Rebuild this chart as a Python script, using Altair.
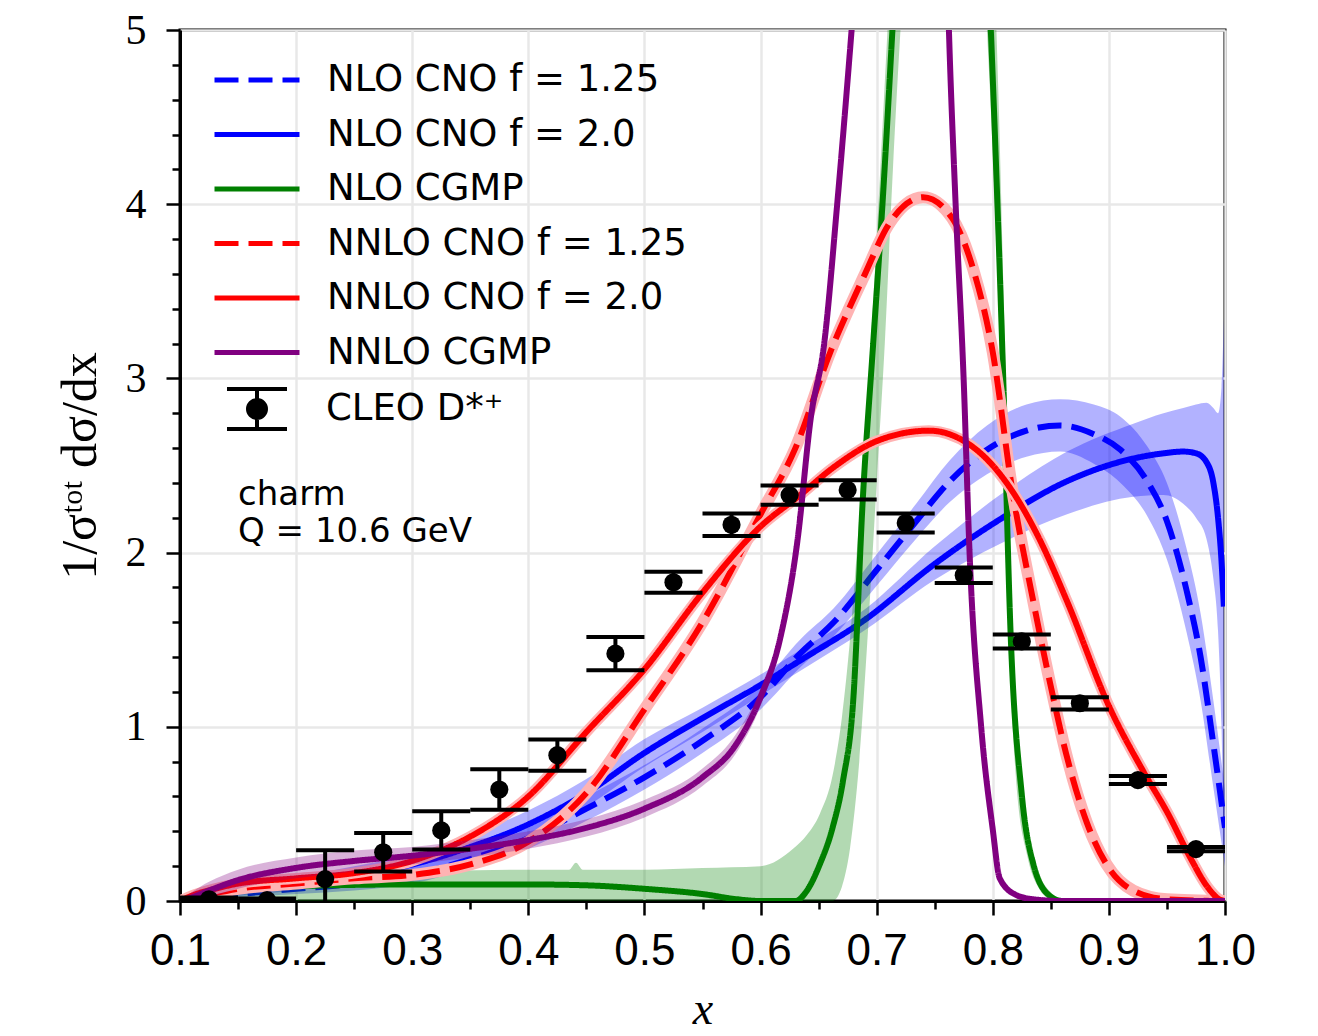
import altair as alt
import pandas as pd

# ---------------- data ----------------
labels = ["NLO CNO f = 1.25", "NLO CNO f = 2.0", "NLO CGMP",
          "NNLO CNO f = 1.25", "NNLO CNO f = 2.0", "NNLO CGMP"]
line_colors = ["#0000ff", "#0000ff", "#008000", "#ff0000", "#ff0000", "#800080"]
line_dashes = [[24, 10], [1, 0], [1, 0], [24, 10], [1, 0], [1, 0]]

x_ticks = [0.1, 0.15, 0.2, 0.25, 0.3, 0.35, 0.4, 0.45, 0.5, 0.55, 0.6, 0.65,
           0.7, 0.75, 0.8, 0.85, 0.9, 0.95, 1.0]
y_ticks = [0, 0.2, 0.4, 0.6, 0.8, 1, 1.2, 1.4, 1.6, 1.8, 2, 2.2, 2.4, 2.6, 2.8,
           3, 3.2, 3.4, 3.6, 3.8, 4, 4.2, 4.4, 4.6, 4.8, 5]

# NLO CNO f=1.25 (blue dashed) + band
nlo125_x = [0.10, 0.12, 0.15, 0.20, 0.25, 0.30, 0.35, 0.40, 0.45, 0.50, 0.55, 0.60, 0.634,
            0.663, 0.70, 0.734, 0.763, 0.795, 0.829, 0.858, 0.887, 0.91, 0.933, 0.95, 0.967,
            0.979, 0.99, 1.0]
nlo125_y = [0.0, 0.02, 0.04, 0.07, 0.10, 0.15, 0.24, 0.36, 0.53, 0.71, 0.92, 1.17, 1.42,
            1.60, 1.90, 2.18, 2.41, 2.59, 2.70, 2.73, 2.68, 2.59, 2.41, 2.18, 1.78,
            1.40, 0.90, 0.42]
nlo125_lo = [0.0, 0.01, 0.02, 0.04, 0.06, 0.10, 0.19, 0.30, 0.46, 0.64, 0.85, 1.10, 1.34,
             1.52, 1.81, 2.08, 2.29, 2.45, 2.55, 2.58, 2.51, 2.40, 2.21, 1.96, 1.54,
             1.15, 0.65, 0.20]
nlo125_hi = [0.0, 0.03, 0.06, 0.10, 0.14, 0.20, 0.29, 0.42, 0.60, 0.78, 0.99, 1.24, 1.50,
             1.68, 1.99, 2.28, 2.53, 2.73, 2.85, 2.88, 2.85, 2.78, 2.61, 2.40, 2.02,
             1.65, 1.15, 0.64]

# NLO CNO f=2.0 (blue solid) + band
nlo20_x = [0.10, 0.12, 0.15, 0.20, 0.25, 0.30, 0.35, 0.40, 0.45, 0.50, 0.55, 0.60, 0.634,
           0.691, 0.749, 0.806, 0.864, 0.921, 0.947, 0.964, 0.975, 0.984, 0.99, 0.994,
           0.997, 0.999]
nlo20_y = [0.0, 0.03, 0.06, 0.10, 0.15, 0.21, 0.31, 0.44, 0.62, 0.85, 1.05, 1.24, 1.38,
           1.62, 1.93, 2.19, 2.41, 2.54, 2.57, 2.58, 2.57, 2.52, 2.40, 2.20, 1.95, 1.69]
nlo20_lo = [0.0, 0.01, 0.03, 0.06, 0.10, 0.15, 0.24, 0.36, 0.54, 0.77, 0.97, 1.18, 1.32,
            1.56, 1.84, 2.05, 2.22, 2.32, 2.33, 2.28, 2.20, 2.08, 1.85, 1.55, 1.00, 0.26]
nlo20_hi = [0.0, 0.05, 0.09, 0.14, 0.20, 0.27, 0.38, 0.52, 0.70, 0.93, 1.11, 1.30, 1.44,
            1.68, 2.03, 2.33, 2.58, 2.74, 2.80, 2.83, 2.85, 2.86, 2.83, 2.80, 2.95, 3.35]

# NLO CGMP (green) + band
nlocg_x = [0.10, 0.12, 0.15, 0.20, 0.30, 0.40, 0.45, 0.50, 0.55, 0.58, 0.60, 0.63, 0.64,
           0.651, 0.662, 0.671, 0.680, 0.688, 0.697, 0.705, 0.714, 0.73, 0.755, 0.78,
           0.798, 0.804, 0.809, 0.815, 0.825, 0.835, 0.849, 0.86, 0.9, 1.0]
nlocg_y = [0.0, 0.03, 0.06, 0.085, 0.095, 0.095, 0.09, 0.07, 0.04, 0.01, 0.0, 0.0, 0.06,
           0.21, 0.42, 0.69, 1.17, 2.30, 3.20, 4.00, 5.05, 7.0, 9.0, 7.0,
           5.05, 4.0, 3.0, 1.60, 0.61, 0.21, 0.03, 0.0, 0.0, 0.0]
nlocg_bx = [0.10, 0.12, 0.15, 0.20, 0.30, 0.40, 0.435, 0.441, 0.447, 0.50, 0.55, 0.60,
            0.628, 0.64, 0.651, 0.662, 0.67, 0.677, 0.685, 0.693, 0.70, 0.707, 0.714,
            0.73, 0.755, 0.78, 0.795, 0.80, 0.805, 0.81, 0.815, 0.82, 0.83, 0.84, 0.85,
            0.86, 1.0]
nlocg_lo = [0.0, 0.0, 0.0, 0.0, 0.0, 0.0, 0.0, 0.0, 0.0, 0.0, 0.0, 0.0,
            0.0, 0.0, 0.0, 0.0, 0.08, 0.3, 0.8, 1.6, 2.4, 3.2, 4.2,
            6.0, 8.0, 7.0, 5.0, 4.3, 3.4, 2.3, 1.3, 0.7, 0.25, 0.07, 0.01,
            0.0, 0.0]
nlocg_hi = [0.0, 0.05, 0.11, 0.15, 0.17, 0.18, 0.18, 0.22, 0.18, 0.18, 0.19, 0.20,
            0.30, 0.38, 0.50, 0.72, 1.05, 1.5, 2.2, 3.0, 3.8, 4.7, 5.6,
            7.5, 10.0, 9.0, 6.5, 5.6, 4.6, 3.3, 2.0, 1.1, 0.45, 0.16, 0.05,
            0.01, 0.0]

# NNLO CNO f=1.25 (red dashed)
nnlo125_x = [0.10, 0.12, 0.15, 0.20, 0.25, 0.30, 0.35, 0.40, 0.45, 0.50, 0.55, 0.60, 0.63,
             0.66, 0.69, 0.71, 0.74, 0.765, 0.783, 0.80, 0.817, 0.834, 0.851, 0.863,
             0.881, 0.898, 0.921, 0.95, 1.0]
nnlo125_y = [0.0, 0.03, 0.07, 0.10, 0.13, 0.15, 0.21, 0.34, 0.62, 1.10, 1.60, 2.22, 2.60,
             3.15, 3.60, 3.88, 4.04, 3.92, 3.63, 3.15, 2.35, 1.75, 1.20, 0.85,
             0.45, 0.21, 0.06, 0.01, 0.0]

# NNLO CNO f=2.0 (red solid)
nnlo20_x = [0.10, 0.11, 0.13, 0.15, 0.20, 0.25, 0.30, 0.35, 0.40, 0.45, 0.50, 0.55, 0.60,
            0.634, 0.663, 0.70, 0.745, 0.78, 0.80, 0.82, 0.84, 0.864, 0.90, 0.93, 0.951,
            0.97, 0.985, 0.995, 1.0]
nnlo20_y = [0.0, 0.03, 0.07, 0.10, 0.13, 0.16, 0.23, 0.37, 0.60, 0.97, 1.33, 1.77, 2.15,
            2.33, 2.49, 2.64, 2.70, 2.62, 2.50, 2.32, 2.08, 1.72, 1.12, 0.74, 0.50,
            0.25, 0.08, 0.01, 0.0]

# NNLO CGMP (purple) + band
nnlocg_x = [0.10, 0.11, 0.125, 0.15, 0.20, 0.25, 0.30, 0.35, 0.40, 0.45, 0.50, 0.55, 0.578,
            0.60, 0.617, 0.632, 0.643, 0.655, 0.666, 0.679, 0.70, 0.73, 0.755, 0.762,
            0.768, 0.775, 0.78, 0.79, 0.80, 0.806, 0.82, 0.835, 0.86, 1.0]
nnlocg_y = [0.0, 0.02, 0.06, 0.12, 0.19, 0.23, 0.26, 0.30, 0.35, 0.42, 0.53, 0.71, 0.89,
            1.17, 1.51, 2.08, 2.76, 3.21, 4.0, 5.05, 7.0, 9.0, 7.0, 5.05,
            4.0, 2.98, 2.0, 1.0, 0.41, 0.13, 0.035, 0.01, 0.0, 0.0]
nnlocg_bx = [0.10, 0.11, 0.125, 0.15, 0.20, 0.25, 0.30, 0.35, 0.40, 0.45, 0.50, 0.55,
             0.578, 0.60, 0.617, 0.632]
nnlocg_lo = [0.0, 0.0, 0.02, 0.07, 0.13, 0.17, 0.21, 0.25, 0.30, 0.37, 0.48, 0.66,
             0.84, 1.12, 1.46, 2.02]
nnlocg_hi = [0.0, 0.05, 0.11, 0.18, 0.25, 0.29, 0.31, 0.35, 0.40, 0.47, 0.58, 0.76,
             0.95, 1.22, 1.56, 2.14]

# CLEO D*+ data
cleo_label = "CLEO D*\u207a"
cleo_x = [0.125, 0.175, 0.225, 0.275, 0.325, 0.375, 0.425, 0.475, 0.525, 0.575, 0.625,
          0.675, 0.725, 0.775, 0.825, 0.875, 0.925, 0.975]
cleo_y = [0.01, 0.005, 0.126, 0.28, 0.405, 0.64, 0.837, 1.42, 1.83, 2.16, 2.33, 2.36,
          2.17, 1.87, 1.49, 1.135, 0.694, 0.298]
cleo_err = [0.01, 0.01, 0.165, 0.11, 0.11, 0.116, 0.09, 0.095, 0.06, 0.065, 0.055, 0.055,
            0.055, 0.045, 0.04, 0.035, 0.023, 0.012]
cleo_halfbin = [0.025] * len(cleo_x)

annot_text = ["charm", "Q = 10.6 GeV"]
annot_x = [0.15, 0.15]
annot_y = [2.276, 2.058]

# ---------------- frames ----------------
def line_df(xs, ys, lab):
    return pd.DataFrame({"x": xs, "y": ys, "series": lab})

def band_df(xs, lo, hi):
    return pd.DataFrame({"x": xs, "lo": lo, "hi": hi})

cleo = pd.DataFrame({
    "xc": cleo_x, "y": cleo_y,
    "lo": [a - b for a, b in zip(cleo_y, cleo_err)],
    "hi": [a + b for a, b in zip(cleo_y, cleo_err)],
    "xl": [a - b for a, b in zip(cleo_x, cleo_halfbin)],
    "xr": [a + b for a, b in zip(cleo_x, cleo_halfbin)],
    "src": cleo_label,
})
annot = pd.DataFrame({"t": annot_text, "x": annot_x, "y": annot_y})

# ---------------- scales / axes ----------------
xscale = alt.Scale(domain=[0.1, 1.0], nice=False, zero=False)
yscale = alt.Scale(domain=[0, 5], nice=False)

minor_x = "abs(datum.value*10 - round(datum.value*10)) > 0.001"
minor_y = "abs(datum.value - round(datum.value)) > 0.001"

xaxis = alt.Axis(
    values=x_ticks,
    labelExpr=f"({minor_x}) ? '' : format(datum.value, '.1f')",
    tickSize={"condition": {"test": minor_x, "value": 8}, "value": 14},
    gridOpacity={"condition": {"test": minor_x, "value": 0}, "value": 1},
    labelFont="Liberation Sans", labelFontSize=44, labelPadding=14,
    labelColor="black", labelFlush=False,
    title="x", titleFont="Liberation Serif", titleFontStyle="italic",
    titleFontSize=46, titleFontWeight="normal", titlePadding=14, titleColor="black",
)
yaxis = alt.Axis(
    values=y_ticks,
    labelExpr=f"({minor_y}) ? '' : format(datum.value, '.0f')",
    tickSize={"condition": {"test": minor_y, "value": 8}, "value": 14},
    gridOpacity={"condition": {"test": minor_y, "value": 0}, "value": 1},
    labelFont="Liberation Serif", labelFontSize=42, labelPadding=20,
    labelColor="black", labelFlush=False,
    title="1/\u03c3\u1d57\u1d52\u1d57 d\u03c3/dx", titleFont="Liberation Serif",
    titleFontSize=50, titleFontWeight="normal", titlePadding=20, titleColor="black",
)

def X(field):
    return alt.X(f"{field}:Q", scale=xscale, axis=xaxis)

def Y(field):
    return alt.Y(f"{field}:Q", scale=yscale, axis=yaxis)

leg_lines = alt.Legend(
    title=None, orient="none", legendX=32, legendY=31,
    symbolType="stroke", symbolSize=7225, symbolStrokeWidth=5,
    labelFont="DejaVu Sans", labelFontSize=37, labelColor="black", labelLimit=700,
    labelOffset=25, clipHeight=38, rowPadding=16.5, padding=0,
)
color_enc = alt.Color("series:N", scale=alt.Scale(domain=labels, range=line_colors),
                      legend=leg_lines)
dash_enc = alt.StrokeDash("series:N", scale=alt.Scale(domain=labels, range=line_dashes),
                          legend=leg_lines)

ERRPATH = ("M-1,-0.67L1,-0.67M-1,0.67L1,0.67M0,-0.67L0,0.67"
           "M0.3,0A0.3,0.3,0,1,1,-0.3,0A0.3,0.3,0,1,1,0.3,0Z")
leg_cleo = alt.Legend(
    title=None, orient="none", legendX=45, legendY=347,
    symbolType=ERRPATH, symbolSize=3600, symbolStrokeWidth=4,
    symbolFillColor="black", symbolStrokeColor="black",
    labelFont="DejaVu Sans", labelFontSize=37, labelColor="black", labelLimit=700,
    labelOffset=37, padding=0,
)

def band(xs, lo, hi, col):
    return alt.Chart(band_df(xs, lo, hi)).mark_area(
        color=col, opacity=0.3, clip=True, interpolate="monotone"
    ).encode(x=X("x"), y=Y("lo"), y2="hi")

def line(xs, ys, lab, width=6):
    return alt.Chart(line_df(xs, ys, lab)).mark_line(
        strokeWidth=width, clip=True, interpolate="monotone"
    ).encode(x=X("x"), y=Y("y"), color=color_enc, strokeDash=dash_enc)

def underlay(xs, ys, col, width):
    return alt.Chart(line_df(xs, ys, "u")).mark_line(
        color=col, strokeWidth=width, clip=True, interpolate="monotone"
    ).encode(x=X("x"), y=Y("y"))

layers = [
    band(nlo125_x, nlo125_lo, nlo125_hi, "#0000ff"),
    line(nlo125_x, nlo125_y, labels[0]),
    band(nlo20_x, nlo20_lo, nlo20_hi, "#0000ff"),
    line(nlo20_x, nlo20_y, labels[1]),
    band(nlocg_bx, nlocg_lo, nlocg_hi, "#008000"),
    line(nlocg_x, nlocg_y, labels[2]),
    underlay(nnlo125_x, nnlo125_y, "#ffb3b3", 12),
    line(nnlo125_x, nnlo125_y, labels[3]),
    underlay(nnlo20_x, nnlo20_y, "#ffb3b3", 11),
    line(nnlo20_x, nnlo20_y, labels[4]),
    band(nnlocg_bx, nnlocg_lo, nnlocg_hi, "#800080"),
    line(nnlocg_x, nnlocg_y, labels[5]),
]

err_v = alt.Chart(cleo).mark_rule(strokeWidth=4, clip=True).encode(
    x=X("xc"), y=Y("lo"), y2="hi",
    stroke=alt.Stroke("src:N", scale=alt.Scale(domain=[cleo_label], range=["black"]),
                      legend=leg_cleo),
)
cap_hi = alt.Chart(cleo).mark_rule(strokeWidth=4, color="black", clip=True).encode(
    x=X("xl"), x2="xr", y=Y("hi"))
cap_lo = alt.Chart(cleo).mark_rule(strokeWidth=4, color="black", clip=True).encode(
    x=X("xl"), x2="xr", y=Y("lo"))
pts = alt.Chart(cleo).mark_point(filled=True, size=330, color="black", opacity=1,
                                 clip=True).encode(x=X("xc"), y=Y("y"))

txt = alt.Chart(annot).mark_text(
    align="left", baseline="alphabetic", font="DejaVu Sans", fontSize=34, color="black"
).encode(x=X("x"), y=Y("y"), text="t:N")

chart = alt.layer(*layers, err_v, cap_hi, cap_lo, pts, txt).properties(
    width=1045, height=871,
    padding={"left": 47, "top": 1, "right": 10, "bottom": 0},
).configure_view(stroke="black", strokeWidth=3).configure_axis(
    gridColor="#e8e8e8", gridWidth=2.5, domainColor="black", domainWidth=3,
    tickColor="black", tickWidth=2.5,
)

chart.save("out.html", embed_options={"renderer": "svg", "actions": False})
